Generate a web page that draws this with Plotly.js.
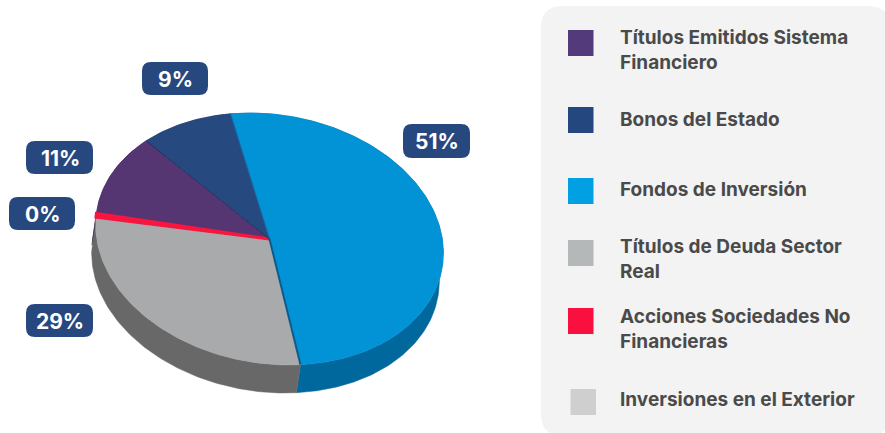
<!DOCTYPE html>
<html>
<head>
<meta charset="utf-8">
<script src="https://cdn.plot.ly/plotly-3.0.1.min.js"></script>
<style>html,body{margin:0;padding:0;background:#fff}#chart{width:885px;height:433px}</style>
</head>
<body>
<div id="chart"></div>
<script>
// Portfolio composition, listed clockwise around the pie
const categories = ['Títulos Emitidos Sistema<br>Financiero', 'Bonos del Estado', 'Fondos de Inversión',
  'Títulos de Deuda Sector<br>Real', 'Acciones Sociedades No<br>Financieras', 'Inversiones en el Exterior'];
const values = [11, 9, 51, 29, 0.49, 0];
const topColors = ['#553673', '#26497f', '#0293d6', '#a8aaab', '#f8153f', '#cfcfcf'];
const wallColors = ['#3d2858', '#1d3a6b', '#00689c', '#686868', '#4a3a50', '#999999'];
const legendColors = ['#533a7b', '#25477f', '#01a0e2', '#b5b8b8', '#f9103f', '#cfcfcf'];

// Tilted-disc geometry, in the screen-pixel axes used below
const disc = {cx: 269.5, cy: 239, a: 175, b: 124.4, tilt: 9.35, start: 268.7, wallDx: -4, wallDy: 28};
const rad = d => d * Math.PI / 180;
function rim(theta, dx = 0, dy = 0) {
  const u = Math.sin(rad(theta)) * disc.a, v = -Math.cos(rad(theta)) * disc.b;
  const c = Math.cos(rad(disc.tilt)), s = Math.sin(rad(disc.tilt));
  return [disc.cx + u * c - v * s + dx, disc.cy + u * s + v * c + dy];
}
function arc(from, to) {
  const out = [], n = Math.max(2, Math.ceil(to - from));
  for (let i = 0; i <= n; i++) out.push(from + (to - from) * i / n);
  return out;
}

const total = values.reduce((p, v) => p + v, 0);
const spans = [];
let cursor = disc.start;
values.forEach(v => { const w = v / total * 360; spans.push([cursor, cursor + w]); cursor += w; });

const poly = (pts, name, fill, lineColor, lineWidth) => ({
  type: 'scatter', mode: 'lines', x: pts.map(p => p[0]), y: pts.map(p => p[1]), name,
  fill: 'toself', fillcolor: fill, line: {color: lineColor, width: lineWidth},
  hoverinfo: 'name', showlegend: false
});

const traces = [];
// Side walls come first so the top face covers their hidden part
values.forEach((v, i) => {
  if (!v) return;
  const t = arc(spans[i][0], spans[i][1]);
  const pts = t.map(a => rim(a)).concat(t.slice().reverse().map(a => rim(a, disc.wallDx, disc.wallDy)));
  pts.push(pts[0]);
  traces.push(poly(pts, categories[i].replace('<br>', ' '), wallColors[i], wallColors[i], 0.5));
});
// Top face
values.forEach((v, i) => {
  if (!v) return;
  const pts = [[disc.cx, disc.cy]].concat(arc(spans[i][0], spans[i][1]).map(a => rim(a)));
  pts.push([disc.cx, disc.cy]);
  const thin = v < 1;
  traces.push(poly(pts, categories[i].replace('<br>', ' '), topColors[i], topColors[i], thin ? 3 : 0.5));
});
// Darker seams along slice boundaries
const seam = (theta, color, width) => {
  const p = rim(theta);
  traces.push({type: 'scatter', mode: 'lines', x: [disc.cx, p[0]], y: [disc.cy, p[1]],
    line: {color, width}, hoverinfo: 'skip', showlegend: false});
};
seam(spans[2][1], '#0b5c8c', 2);
seam(spans[2][0], '#1d5c9c', 1);
seam(spans[1][0], '#2a2f60', 1);

// Rounded rectangle path for the panel and the value badges
function rounded(x0, y0, x1, y1, r) {
  return `M${x0 + r},${y0} L${x1 - r},${y0} Q${x1},${y0} ${x1},${y0 + r} L${x1},${y1 - r} Q${x1},${y1} ${x1 - r},${y1} ` +
         `L${x0 + r},${y1} Q${x0},${y1} ${x0},${y1 - r} L${x0},${y0 + r} Q${x0},${y0} ${x0 + r},${y0} Z`;
}

const font = '"Inter", "Open Sans", sans-serif';
const shapes = [{type: 'path', path: rounded(541, 6, 890, 436, 22), fillcolor: '#f3f3f3', line: {width: 0}, layer: 'below'}];
const annotations = [];

// Value badges, one per slice that carries a label
const badgeBoxes = [[26, 141, 93, 174], [142, 62, 208, 95], [403, 124, 470, 158], [26, 304, 93, 337], [9, 197, 75, 230]];
badgeBoxes.forEach((b, i) => {
  shapes.push({type: 'path', path: rounded(b[0], b[1], b[2], b[3], 9), fillcolor: '#26487f', line: {width: 0}});
  annotations.push({x: (b[0] + b[2]) / 2 + 0.5, y: (b[1] + b[3]) / 2 + 0.5, xref: 'x', yref: 'y', showarrow: false,
    text: '<b>' + Math.round(values[i]) + '%</b>', font: {family: font, size: 21, color: '#ffffff'}});
});

// Legend rows
const legendSwatches = [[568, 30], [568, 107], [568, 178], [568, 240], [568, 308], [570.5, 389]];
const legendTextY = [49.5, 119, 189, 258.5, 328.5, 399];
categories.forEach((c, i) => {
  const [x, y] = legendSwatches[i];
  shapes.push({type: 'rect', x0: x, x1: x + 25.5, y0: y, y1: y + 26, fillcolor: legendColors[i], line: {width: 0}});
  annotations.push({x: 618, y: legendTextY[i], xref: 'x', yref: 'y', xanchor: 'left', yanchor: 'middle', align: 'left',
    showarrow: false, text: '<b>' + c + '</b>', font: {family: font, size: 19, color: '#4a4a4a'}});
});

Plotly.newPlot('chart', traces, {
  width: 885, height: 433,
  margin: {l: 0, r: 0, t: 0, b: 0},
  paper_bgcolor: '#ffffff', plot_bgcolor: 'rgba(0,0,0,0)',
  xaxis: {range: [0, 885], visible: false, fixedrange: true},
  yaxis: {range: [433, 0], visible: false, fixedrange: true},
  showlegend: false, shapes, annotations
}, {displayModeBar: false, staticPlot: true});
</script>
</body>
</html>
